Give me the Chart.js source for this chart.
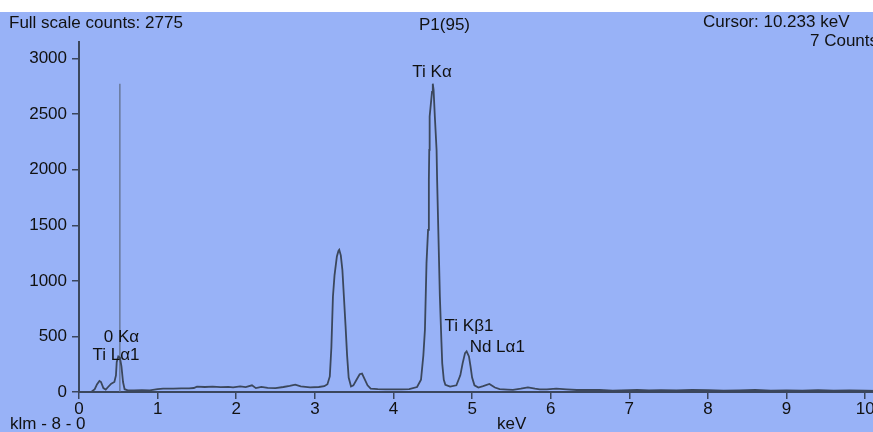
<!DOCTYPE html>
<html>
<head>
<meta charset="utf-8">
<title>P1(95) spectrum</title>
<script src="https://cdn.jsdelivr.net/npm/chart.js@4.4.1/dist/chart.umd.min.js"></script>
<style>
  html, body { margin: 0; padding: 0; width: 873px; height: 432px; overflow: hidden; background: #ffffff; }
  /* blue panel behind the plot, the top 12px of the window stay white */
  #panel { position: absolute; left: 0; top: 12px; width: 873px; height: 420px; background: #98b2f7; }
  /* the canvas is a bit wider than the window so the "10" and the cursor text get cut like in the original */
  #wrap { position: absolute; left: 0; top: 0; width: 890px; height: 432px; }
  .txt { position: absolute; font-family: "Liberation Sans", Arial, sans-serif; font-size: 17px; line-height: 17px; color: #111111; white-space: nowrap; }
</style>
</head>
<body>
<div id="panel"></div>
<div id="wrap"><canvas id="spectrum" width="890" height="432" style="width:890px;height:432px"></canvas></div>
<div class="txt" style="left:9px;top:14px">Full scale counts: 2775</div>
<div class="txt" style="left:419px;top:16px">P1(95)</div>
<div class="txt" style="left:703px;top:13px">Cursor: 10.233 keV</div>
<div class="txt" style="left:810px;top:32px">7 Counts</div>
<div class="txt" style="left:10px;top:415px">klm - 8 - 0</div>
<div class="txt" style="left:497px;top:415px">keV</div>

<script>
// spectrum: energy in keV and counts at that energy
const energies = [
  0.00, 0.10, 0.16, 0.20, 0.23, 0.26, 0.28, 0.31, 0.34, 0.37, 0.41, 0.45, 0.47, 0.48, 0.50, 0.52, 0.54, 0.56, 0.58, 0.62,
  0.70, 0.80, 0.90, 1.00, 1.07, 1.20, 1.30, 1.40, 1.46, 1.50, 1.60, 1.70, 1.80, 1.90, 1.96, 2.05, 2.12, 2.20, 2.25, 2.32,
  2.40, 2.50, 2.60, 2.68, 2.75, 2.82, 2.94, 3.05, 3.12, 3.16, 3.19, 3.21, 3.23, 3.25, 3.28, 3.30, 3.31, 3.33, 3.35, 3.37,
  3.39, 3.41, 3.43, 3.46, 3.49, 3.53, 3.57, 3.60, 3.63, 3.67, 3.71, 3.80, 3.90, 4.00, 4.10, 4.20, 4.30, 4.35, 4.38, 4.40,
  4.42, 4.44, 4.45, 4.455, 4.46, 4.49, 4.50, 4.51, 4.526, 4.548, 4.555, 4.57, 4.59, 4.61, 4.62, 4.64, 4.66, 4.72, 4.80, 4.85,
  4.88, 4.91, 4.93, 4.96, 4.98, 5.00, 5.03, 5.08, 5.14, 5.22, 5.29, 5.35, 5.45, 5.52, 5.62, 5.71, 5.80, 5.86, 5.95, 6.07,
  6.20, 6.33, 6.45, 6.62, 6.79, 7.00, 7.10, 7.25, 7.40, 7.60, 7.80, 8.00, 8.20, 8.40, 8.60, 8.80, 9.00, 9.20, 9.40, 9.60,
  9.80, 10.00, 10.15
];
const counts = [
  0, 0, 2, 25, 70, 100, 90, 35, 22, 45, 75, 90, 150, 270, 320, 310, 230, 90, 25, 15,
  14, 16, 14, 25, 30, 30, 33, 33, 36, 48, 45, 48, 44, 46, 42, 50, 44, 60, 35, 46,
  38, 35, 45, 55, 66, 50, 42, 45, 52, 70, 140, 400, 860, 1050, 1220, 1270, 1280, 1230, 1100, 850,
  600, 330, 130, 50, 60, 110, 160, 165, 120, 60, 30, 25, 24, 24, 24, 25, 45, 110, 330, 560,
  1160, 1460, 1910, 2180, 2480, 2700, 2775, 2720, 2480, 2180, 1910, 1460, 860, 450, 258, 110, 65, 48, 60, 150,
  260, 350, 365, 320, 230, 130, 60, 40, 52, 72, 40, 26, 22, 20, 30, 42, 30, 24, 24, 30,
  24, 18, 20, 18, 12, 16, 18, 14, 16, 14, 18, 16, 12, 14, 18, 12, 15, 12, 16, 12,
  14, 12, 10
];

// marker line drawn up to the full scale value
const markerKeV = 0.52;
const fullScale = 2775;

// peak identifications: name, energy (keV) and height (counts) where the name sits
const peakNames = ["Ti K\u03b1", "0 K\u03b1", "Ti L\u03b11", "Ti K\u03b21", "Nd L\u03b11"];
const peakKeV = [4.49, 0.54, 0.47, 4.96, 5.32];
const peakCounts = [2874, 495, 333, 595, 405];

// axis ticks
const xTicks = [0, 1, 2, 3, 4, 5, 6, 7, 8, 9, 10];
const yTicks = [0, 500, 1000, 1500, 2000, 2500, 3000];

const fontFamily = "'Liberation Sans', Arial, sans-serif";
const lineColor = "#3b475c";

// writes the peak names into the plot
const peakLabelPlugin = {
  id: "peakLabels",
  afterDatasetsDraw(chart) {
    const ctx = chart.ctx;
    const xs = chart.scales.x;
    const ys = chart.scales.y;
    ctx.save();
    ctx.font = "17px " + fontFamily;
    ctx.fillStyle = "#111111";
    ctx.textAlign = "center";
    ctx.textBaseline = "middle";
    for (let i = 0; i < peakNames.length; i++) {
      ctx.fillText(peakNames[i], xs.getPixelForValue(peakKeV[i]), ys.getPixelForValue(peakCounts[i]));
    }
    ctx.restore();
  }
};

const config = {
  type: "scatter",
  data: {
    datasets: [{
      label: "P1(95)",
      data: energies.map((e, i) => ({ x: e, y: counts[i] })),
      showLine: true,
      borderColor: lineColor,
      borderWidth: 1.8,
      pointRadius: 0,
      tension: 0,
      fill: false
    }, {
      label: "marker",
      data: [{ x: markerKeV, y: 0 }, { x: markerKeV, y: fullScale }],
      showLine: true,
      borderColor: "#5d6b83",
      borderWidth: 1.2,
      pointRadius: 0
    }]
  },
  options: {
    responsive: false,
    animation: false,
    layout: { padding: { top: 42, right: 13, left: 0, bottom: 0 } },
    plugins: {
      legend: { display: false },
      tooltip: { enabled: false }
    },
    scales: {
      x: {
        type: "linear",
        min: 0,
        max: 10.15,
        afterBuildTicks: (scale) => { scale.ticks = xTicks.map(v => ({ value: v })); },
        afterFit: (scale) => { scale.height = 40; },
        grid: { drawOnChartArea: false, drawTicks: true, tickLength: 7, color: lineColor, lineWidth: 1.5 },
        border: { display: true, color: lineColor, width: 2 },
        ticks: {
          color: "#111111", font: { family: fontFamily, size: 17 }, padding: 0, maxRotation: 0, autoSkip: false,
          callback: (value) => String(value)
        }
      },
      y: {
        type: "linear",
        min: 0,
        max: 3150,
        afterBuildTicks: (scale) => { scale.ticks = yTicks.map(v => ({ value: v })); },
        afterFit: (scale) => { scale.width = 79; },
        grid: { drawOnChartArea: false, drawTicks: true, tickLength: 7, color: lineColor, lineWidth: 1.5 },
        border: { display: true, color: lineColor, width: 2 },
        ticks: {
          color: "#111111", font: { family: fontFamily, size: 17 }, padding: 5, autoSkip: false,
          callback: (value) => String(value) // plain numbers, no thousands separator
        }
      }
    }
  },
  plugins: [peakLabelPlugin]
};

const ctx = document.getElementById("spectrum").getContext("2d");
const spectrumChart = new Chart(ctx, config);
</script>
</body>
</html>
